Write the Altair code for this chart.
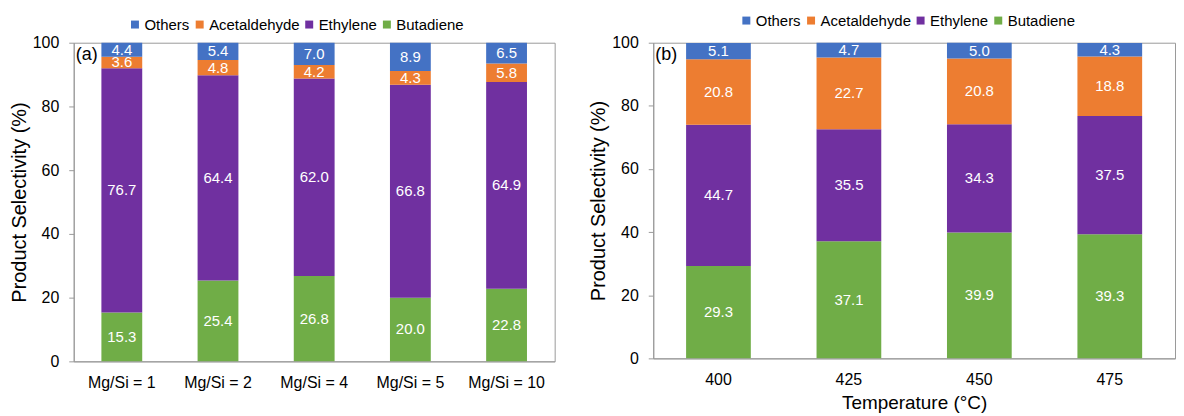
import altair as alt
import pandas as pd

series = ["Others", "Acetaldehyde", "Ethylene", "Butadiene"]
colors = ["#4472C4", "#ED7D31", "#7030A0", "#70AD47"]
stack_rank = {"Butadiene": 0, "Ethylene": 1, "Acetaldehyde": 2, "Others": 3}

cats_a = ["Mg/Si = 1", "Mg/Si = 2", "Mg/Si = 4", "Mg/Si = 5", "Mg/Si = 10"]
butadiene_a = [15.3, 25.4, 26.8, 20.0, 22.8]
ethylene_a = [76.7, 64.4, 62.0, 66.8, 64.9]
acetaldehyde_a = [3.6, 4.8, 4.2, 4.3, 5.8]
others_a = [4.4, 5.4, 7.0, 8.9, 6.5]

cats_b = ["400", "425", "450", "475"]
butadiene_b = [29.3, 37.1, 39.9, 39.3]
ethylene_b = [44.7, 35.5, 34.3, 37.5]
acetaldehyde_b = [20.8, 22.7, 20.8, 18.8]
others_b = [5.1, 4.7, 5.0, 4.3]


def make_df(cats, bu, et, ac, ot):
    rows = []
    for i, c in enumerate(cats):
        for s, v in (("Butadiene", bu[i]), ("Ethylene", et[i]),
                     ("Acetaldehyde", ac[i]), ("Others", ot[i])):
            rows.append({"cat": c, "series": s, "value": v, "ord": stack_rank[s]})
    return pd.DataFrame(rows)


FONT = "Liberation Sans"


def panel(df, cats, letter, width, height, barsize, xtitle, lx, ly):
    base = alt.Chart(df)
    xenc = alt.X("cat:N", sort=cats,
                 axis=alt.Axis(ticks=False, labelAngle=0, labelFontSize=16,
                               labelPadding=13, labelColor="#000",
                               domainColor="#999", titleFontSize=19,
                               titleFontWeight="normal", titleColor="#000",
                               titlePadding=6),
                 title=xtitle if xtitle else None)
    yscale = alt.Scale(domain=[0, 100], nice=False)
    yaxis = alt.Axis(values=list(range(0, 101, 10)),
                     labelExpr="datum.value % 20 == 0 ? datum.label : ''",
                     labelFontSize=16, labelColor="#000", tickColor="#999",
                     tickSize=5, domainColor="#999", grid=False,
                     titleFontSize=20, titleFontWeight="normal",
                     titleColor="#000", titlePadding=3, labelPadding=10)
    bars = base.mark_bar(size=barsize).encode(
        x=xenc,
        y=alt.Y("value:Q", stack="zero", scale=yscale, axis=yaxis,
                title="Product Selectivity (%)"),
        color=alt.Color("series:N",
                        scale=alt.Scale(domain=series, range=colors),
                        legend=alt.Legend(orient="none", legendX=lx, legendY=ly,
                                          direction="horizontal", title=None,
                                          symbolType="square", symbolSize=64,
                                          symbolStrokeWidth=0,
                                          labelFontSize=15, labelColor="#000",
                                          columnPadding=2, labelOffset=2)),
        order=alt.Order("ord:Q"),
    )
    labels = base.transform_stack(
        stack="value", groupby=["cat"], as_=["y0", "y1"],
        sort=[alt.SortField("ord", order="ascending")]
    ).transform_calculate(
        mid="(datum.y0 + datum.y1) / 2"
    ).mark_text(color="white", fontSize=15, font=FONT).encode(
        x=alt.X("cat:N", sort=cats),
        y=alt.Y("mid:Q", scale=yscale),
        text=alt.Text("value:Q", format=".1f"),
    )
    tag = alt.Chart(pd.DataFrame({"t": [letter]})).mark_text(
        align="left", baseline="middle", fontSize=18, font=FONT, color="#000"
    ).encode(x=alt.value(2), y=alt.value(12), text="t:N")
    return alt.layer(bars, labels, tag).properties(width=width, height=height)


df_a = make_df(cats_a, butadiene_a, ethylene_a, acetaldehyde_a, others_a)
df_b = make_df(cats_b, butadiene_b, ethylene_b, acetaldehyde_b, others_b)

pa = panel(df_a, cats_a, "(a)", 483, 320, 41, None, 54, -26)
pb = panel(df_b, cats_b, "(b)", 524, 317, 65, "Temperature (°C)", 86, -30)

chart = alt.hconcat(pa, pb, spacing=32).resolve_scale(
    color="independent", x="independent", y="independent"
).resolve_legend(color="independent").configure(
    font=FONT
).configure_view(stroke="#999", strokeWidth=1).properties(
    padding={"left": 0, "top": 3, "right": 0, "bottom": 0}
)

chart.save("out.html", embed_options={"renderer": "svg", "actions": False})
